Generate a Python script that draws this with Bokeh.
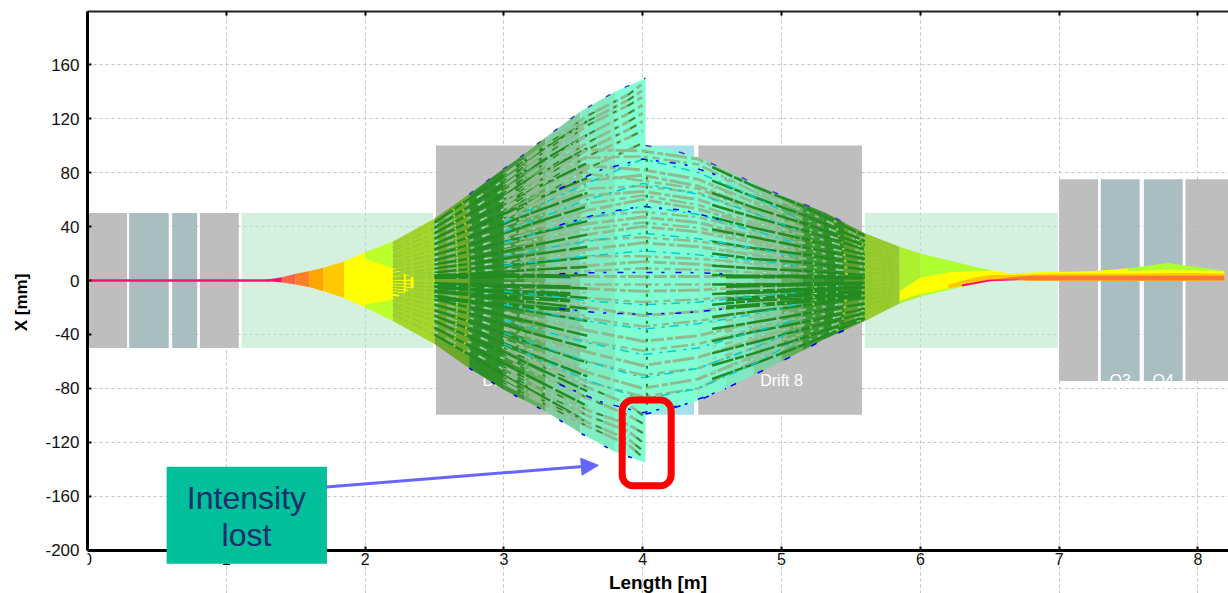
from bokeh.plotting import figure
from bokeh.models import (FixedTicker, LinearAxis, BoxAnnotation, Arrow, NormalHead, Range1d)
from bokeh.embed import file_html
from bokeh.resources import INLINE
from bokeh.core.properties import value

FONT = "Liberation Sans"

# element layout along the beamline [m], half heights [mm]
gray_l = [0.0, 0.81, 2.51, 4.40, 7.00, 7.91]
gray_r = [0.285, 1.09, 4.03, 5.58, 7.28, 8.30]
gray_t = [50, 50, 100, 100, 75, 75]
gray_b = [-50, -50, -99.5, -99.5, -74.5, -74.5]
quad_l = [0.30, 0.61, 7.30, 7.61]
quad_r = [0.585, 0.79, 7.58, 7.89]
quad_t = [50, 50, 75, 75]
quad_b = [-50, -50, -74.5, -74.5]
mint_l = [1.11, 5.60]
mint_r = [2.49, 6.99]
mint_t = [50, 50]
mint_b = [-50, -50]
blue_l = [4.03]
blue_r = [4.37]
blue_t = [100]
blue_b = [-99.5]

# beam envelope, left of the cut at 4 m
env_x_l = [1.25, 1.40, 1.50, 1.60, 1.70, 1.85, 2.00, 2.20, 2.50, 2.75, 3.00, 3.15, 3.30, 3.55, 3.80, 4.02]
env_u_l = [0, 2.5, 5, 7, 9.5, 14, 21, 29, 46, 64, 83, 94, 106, 125, 140, 150]
env_d_l = [0, -1.5, -3, -5, -8, -13, -20, -30, -47, -65, -81, -89, -97, -113, -127, -135]
col_l = ["#FF1070", "#FF6347", "#FF7F24", "#FFA500", "#FFC800", "#FFFF00", "#BDFF2A", "#A4D62C",
         "#6DA82C", "#2F8F28", "#3F9638", "#63AE60", "#7FCFA4", "#7FEDC4", "#7FFFD4"]
# beam envelope, right of the cut
env_x_r = [4.02, 4.20, 4.40, 4.60, 4.80, 5.00, 5.15, 5.30, 5.45, 5.60, 5.85, 6.00, 6.20, 6.40, 6.50, 6.65, 6.80,
           7.00, 7.25, 7.50, 7.78, 8.00, 8.19]
env_u_r = [100, 97, 91, 82, 72, 63, 57, 51, 43, 35, 25, 20, 15, 10, 8, 5, 6, 6, 7, 9, 13, 10, 7]
env_d_r = [-99, -95, -89, -80, -70, -60, -52, -44, -37, -30, -17, -12, -7, -2, 0, 0.5, 0, 0, 0, 0, 0, 0, 0]
col_r = ["#7FFFD4", "#7FFFD4", "#7FF8D0", "#7FE8C0", "#7FCFA4", "#63AE60", "#3F9638", "#2F8F28", "#5FA02C",
         "#93C82E", "#ADF02F", "#ADFF2F", "#ADFF2F", "#ADFF2F", "#FFFF00", "#FFFF00", "#FFFF00", "#FFFF00",
         "#FFFF00", "#ADFF2F", "#ADFF2F", "#ADFF2F"]

# inner hot bands
lens_x = [1.85, 2.00, 2.20, 2.35]
lens_u = [14, 16, 9, 2]
lens_d = [-13, -18, -14, -5]
hot_x = [5.85, 6.00, 6.20, 6.40, 6.50, 6.65, 6.80, 7.00, 7.25, 7.50, 7.78, 8.00, 8.19]
yel_u = [-8, 2, 6, 7, 7, 5, 5.5, 6.5, 6.5, 7, 8, 7.5, 7]
yel_d = [-15, -10, -6, -2, 0, 0.5, 0, 0, 0, 0, 0, 0, 0]
gold_x = [6.20, 6.40, 6.50, 6.65, 6.80, 7.00, 7.25, 7.50, 7.78, 8.00, 8.19]
gold_u = [-3, 2.5, 4, 4, 4.5, 5, 5, 5, 5.5, 5.5, 5]
gold_d = [-6, -2, 0, 0.5, 0, 0, 0, 0, 0, 0, 0]
ora_x = [6.30, 6.50, 6.65, 6.80, 7.00, 7.25, 7.50, 7.78, 8.00, 8.19]
ora_u = [-3, 0, 2.5, 3.5, 3.5, 3.5, 3.5, 3.5, 3.5, 3.5]
ora_d = [-4.5, -0.5, 0.5, 0, 0, 0, 0, 0, 0, 0]
pink_x = [6.30, 6.50, 6.70]
pink_u = [-3, 0.7, 0.8]
pink_d = [-4.5, -0.5, 0.2]

# pencil line before the focus
pencil_x = [0.02, 1.32]
pencil_y = [0, 0]

# dense rays, left side
ray_x_l = [2.2, 2.5, 2.8, 3.2, 3.6]
rays_l = [
    [27, 43, 64, 92, 118], [24, 39, 58, 84, 108], [22, 35, 52, 76, 98], [19, 31, 46, 67, 87],
    [17, 27, 40, 59, 76], [14, 23, 34, 50, 65], [12, 19, 28, 42, 55], [10, 15, 23, 34, 44],
    [7, 12, 17, 26, 34], [5, 9, 13, 19, 25], [4, 6, 9, 13, 17], [2, 4, 5, 8, 10],
    [1, 2, 2, 3, 4], [-1, -2, -3, -4, -6], [-3, -5, -7, -10, -13], [-5, -8, -11, -16, -21],
    [-7, -11, -16, -23, -30], [-9, -14, -21, -31, -41], [-12, -18, -26, -39, -50],
    [-14, -22, -32, -47, -61], [-17, -26, -38, -55, -71], [-19, -30, -44, -63, -82],
    [-22, -35, -51, -72, -93], [-25, -40, -58, -81, -105],
]
rays_l_b = [
    [26, 41, 61, 88, 113], [23, 37, 55, 80, 103], [20, 33, 49, 71, 92], [18, 29, 43, 63, 81],
    [15, 25, 37, 54, 70], [13, 21, 31, 46, 60], [11, 17, 25, 38, 49], [8, 13, 20, 30, 39],
    [6, 10, 15, 22, 29], [3, 7, 11, 16, 21], [3, 5, 7, 10, 13], [-2, -3, -5, -7, -9],
    [-4, -6, -9, -13, -17], [-6, -10, -14, -20, -26], [-8, -13, -19, -27, -35], [-10, -16, -24, -35, -45],
    [-13, -20, -29, -43, -55], [-15, -24, -35, -51, -66], [-18, -28, -41, -59, -76],
    [-20, -33, -48, -68, -88], [-24, -38, -55, -77, -99],
]
# dense rays, right side
ray_x_r = [4.5, 4.8, 5.2, 5.6, 5.85]
rays_r = [
    [84, 70, 53, 33, 22], [74, 62, 47, 29, 19], [65, 54, 41, 26, 17], [56, 47, 36, 23, 15],
    [47, 39, 30, 19, 13], [38, 32, 24, 16, 10], [29, 24, 19, 12, 8], [20, 16, 13, 8, 5],
    [11, 9, 7, 4, 3], [4, 3, 3, 2, 1], [-3, -3, -3, -2, -1], [-10, -9, -8, -5, -3],
    [-18, -15, -13, -9, -5], [-27, -23, -18, -13, -7], [-36, -31, -24, -17, -9],
    [-45, -38, -30, -21, -11], [-54, -46, -35, -24, -13], [-63, -54, -41, -27, -15],
    [-73, -62, -46, -28, -16],
]
rays_r_b = [
    [79, 66, 50, 31, 20], [69, 58, 44, 28, 18], [60, 50, 38, 24, 16], [51, 43, 33, 21, 14],
    [42, 35, 27, 18, 12], [33, 28, 22, 14, 9], [24, 20, 16, 10, 6], [15, 12, 10, 6, 4],
    [7, 6, 5, 3, 2], [-6, -6, -5, -3, -2], [-14, -12, -10, -7, -4], [-22, -19, -15, -11, -6],
    [-31, -27, -21, -15, -8], [-40, -34, -27, -19, -10], [-49, -42, -32, -22, -12],
    [-58, -50, -38, -26, -14], [-68, -58, -44, -28, -15],
]
# heavy bands around the axis
core_x_l = [2.5, 3.0, 3.5]
core_l = [[3, 4, 3], [-3, -4, -5], [-5, -8, -10], [-8, -12, -15], [-13, -18, -22]]
core_x_r = [4.6, 5.1, 5.6]
core_r = [[3, 3, 2], [-4, -3, -2], [-9, -7, -5], [-14, -11, -8], [-20, -16, -11]]

# arched streaks across the cut
arc_x = [3.0, 3.3, 3.6, 4.0, 4.4, 4.8, 5.1]
arcs_teal = [
    [43, 58, 72, 90, 80, 62, 47], [36, 48, 60, 72, 64, 50, 38], [28, 37, 46, 55, 49, 37, 28],
    [18, 24, 29, 35, 31, 24, 18], [11, 15, 18, 22, 19, 15, 11], [-8, -11, -15, -18, -16, -12, -9],
    [-18, -24, -30, -36, -32, -25, -18], [-29, -38, -46, -55, -50, -38, -29],
    [-39, -50, -60, -72, -65, -50, -37], [-47, -60, -74, -88, -80, -62, -45],
]
arcs_sage = [
    [62, 79, 97, 96, 90, 70, 54], [54, 70, 85, 82, 75, 58, 45], [47, 60, 74, 78, 70, 54, 42],
    [41, 52, 63, 66, 60, 46, 35], [33, 42, 52, 60, 53, 41, 31], [28, 35, 42, 47, 43, 33, 25],
    [22, 28, 34, 40, 36, 28, 21], [15, 19, 23, 28, 25, 19, 15], [7, 9, 11, 14, 12, 9, 7],
    [2, 3, 3, 3, 3, 3, 2], [-4, -5, -6, -8, -7, -5, -4], [-13, -16, -20, -26, -23, -17, -13],
    [-24, -30, -37, -45, -41, -31, -24], [-35, -44, -53, -63, -57, -44, -34],
    [-45, -56, -68, -80, -73, -56, -42],
]
arcs_sage_b = [
    [58, 74, 91, 92, 86, 66, 50], [50, 65, 79, 74, 68, 52, 40], [44, 56, 68, 70, 65, 50, 38],
    [37, 47, 57, 63, 56, 43, 33], [30, 38, 47, 51, 47, 37, 28], [25, 31, 38, 43, 39, 30, 23],
    [19, 24, 30, 32, 29, 23, 18], [12, 15, 18, 18, 16, 13, 11], [5, 6, 7, 9, 8, 6, 5],
    [-2, -2, -3, -3, -3, -2, -2], [-8, -10, -13, -16, -14, -11, -8], [-18, -23, -28, -34, -30, -23, -18],
    [-29, -37, -45, -52, -47, -36, -28], [-40, -50, -60, -70, -65, -50, -38],
    [-50, -62, -75, -86, -80, -60, -46],
]
cut_top_x = [3.0, 3.3, 3.6, 3.9, 4.0]
cut_top = [[78, 100, 122, 138, 146], [74, 96, 118, 134, 141], [70, 93, 115, 130, 136], [65, 87, 108, 124, 130],
           [60, 82, 102, 118, 124], [56, 77, 97, 112, 118], [52, 73, 92, 106, 111], [46, 64, 83, 97, 102]]
cut_bot = [[-76, -92, -108, -122, -131], [-72, -90, -105, -118, -126], [-68, -85, -100, -112, -120],
           [-64, -80, -96, -107, -113], [-55, -71, -87, -100, -106], [-50, -65, -79, -92, -100]]
arc_blue_x = [3.4, 3.7, 4.0, 4.3, 4.6]
arcs_blue = [[68, 82, 90, 86, 76], [41, 50, 55, 52, 44], [5, 6, 6, 6, 5], [-21, -24, -25, -24, -21],
             [-77, -90, -98, -92, -80]]
seam_x = [4.03, 4.03]
seam_y = [-92, 95]

x_ticks = [0, 1, 2, 3, 4, 5, 6, 7, 8]
y_ticks = [-200, -160, -120, -80, -40, 0, 40, 80, 120, 160]
y_tick_labels = {-200: "-200", -160: "-160", -120: "-120", -80: "-80", -40: "-40",
                 0: "0", 40: "40", 80: "80", 120: "120", 160: "160"}
x_label = "Length [m]"
y_label = "X [mm]"
drift_labels = ["Drift 7", "Drift 8"]
drift_x = [3.0, 5.0]
drift_y = [-74, -74]
q_labels = ["Q3", "Q4"]
q_x = [7.44, 7.75]
q_y = [-74, -74]
q_mask_l = [7.30]
q_mask_r = [7.89]
q_mask_t = [-75]
q_mask_b = [-79]
callout_lines = ["Intensity", "lost"]
callout_x = [1.145, 1.145]
callout_y = [-161, -189]
box_l = [0.57]
box_r = [1.725]
box_t = [-138]
box_b = [-210]

Y_TOP, Y_BOTTOM = 199.4, -232.0
p = figure(width=1228, height=593, output_backend="svg", toolbar_location=None,
           x_range=Range1d(0, 8.22), y_range=Range1d(Y_BOTTOM, Y_TOP),
           min_border_left=87, min_border_right=0, min_border_top=11, min_border_bottom=0,
           background_fill_color="white", border_fill_color="white", outline_line_color=None,
           x_axis_label=x_label, y_axis_label=y_label)
p.xaxis[0].fixed_location = -200
p.xaxis[0].bounds = (0, 8.22)
p.yaxis[0].bounds = (-200, Y_TOP)
p.xgrid[0].bounds = (-200, Y_TOP)

for ax, ticks in ((p.xaxis[0], x_ticks), (p.yaxis[0], y_ticks)):
    ax.ticker = FixedTicker(ticks=ticks)
    ax.axis_line_color = "black"
    ax.axis_line_width = 3
    ax.major_tick_line_color = "black"
    ax.major_tick_line_width = 2
    ax.major_tick_in = 4
    ax.major_tick_out = 0
    ax.minor_tick_line_color = None
    ax.major_label_text_font = FONT
    ax.major_label_text_color = "#111111"
    ax.axis_label_text_font = FONT
    ax.axis_label_text_font_style = "bold"
    ax.axis_label_text_color = "black"
p.xaxis[0].major_label_text_font_size = "16px"
p.yaxis[0].major_label_text_font_size = "17px"
p.xaxis[0].axis_label_text_font_size = "19px"
p.yaxis[0].axis_label_text_font_size = "17px"
p.yaxis[0].major_label_overrides = y_tick_labels
p.xaxis[0].major_label_standoff = 3
p.xaxis[0].axis_label_standoff = 3
p.yaxis[0].major_label_standoff = 8
p.yaxis[0].axis_label_standoff = 11

top = LinearAxis(ticker=FixedTicker(ticks=x_ticks), axis_line_color="#222222", axis_line_width=2,
                 major_tick_line_color="black", major_tick_line_width=2, major_tick_in=4, major_tick_out=0,
                 minor_tick_line_color=None, major_label_overrides={t: "" for t in x_ticks},
                 major_label_standoff=0)
p.add_layout(top, "above")

for g in (p.xgrid[0], p.ygrid[0]):
    g.grid_line_color = "#C4C4C4"
    g.grid_line_dash = "3 3"
    g.grid_line_width = 1
p.xgrid[0].ticker = FixedTicker(ticks=x_ticks)
p.ygrid[0].ticker = FixedTicker(ticks=y_ticks)

p.quad(left=mint_l, right=mint_r, top=mint_t, bottom=mint_b, fill_color="#B7E8CB", fill_alpha=0.6, line_color=None)
p.quad(left=gray_l, right=gray_r, top=gray_t, bottom=gray_b, fill_color="#B7B7B7", fill_alpha=0.9, line_color=None)
p.quad(left=quad_l, right=quad_r, top=quad_t, bottom=quad_b, fill_color="#9FB7B9", fill_alpha=0.9, line_color=None)
p.quad(left=blue_l, right=blue_r, top=blue_t, bottom=blue_b, fill_color="#A5DFEA", line_color=None)

lab = dict(text_color="white", text_font=value(FONT), text_font_size="16px", text_align="center", text_baseline="middle")
p.text(x=drift_x, y=drift_y, text=drift_labels, **lab)
p.text(x=q_x, y=q_y, text=q_labels, **lab)
p.quad(left=q_mask_l, right=q_mask_r, top=q_mask_t, bottom=q_mask_b, fill_color="white", line_color=None)

# beam body: one slice per envelope interval
for xs, up, dn, cols in ((env_x_l, env_u_l, env_d_l, col_l), (env_x_r, env_u_r, env_d_r, col_r)):
    for i, c in enumerate(cols):
        p.varea(x=xs[i:i + 2], y1=up[i:i + 2], y2=dn[i:i + 2], fill_color=c)

p.varea(x=lens_x, y1=lens_u, y2=lens_d, fill_color="#FFFF00")
p.varea(x=hot_x, y1=yel_u, y2=yel_d, fill_color="#FFFF00")
p.varea(x=gold_x, y1=gold_u, y2=gold_d, fill_color="#FFC800")
p.varea(x=ora_x, y1=ora_u, y2=ora_d, fill_color="#FF7438")
p.varea(x=pink_x, y1=pink_u, y2=pink_d, fill_color="#FF1070")
p.line(pencil_x, pencil_y, line_color="#FF1070", line_width=2.5)

def bundle(x, rows, color, width, dash="solid", alpha=1.0):
    p.multi_line(xs=[x] * len(rows), ys=rows, line_color=color, line_width=width, line_dash=dash, line_alpha=alpha)

bundle(arc_x, arcs_sage, "#8FBC8F", 3, "13 3 6 2 22 4")
bundle(arc_x, arcs_sage_b, "#8FBC8F", 2.5, "7 4 17 3 4 5")
# olive at the thin ends of the rays
bundle(ray_x_l[:3], [r[:3] for r in rays_l], "#9ACD32", 2, "11 2 5 3")
bundle(ray_x_r[2:], [r[2:] for r in rays_r], "#9ACD32", 2, "11 2 5 3")
# sage and aqua over the dark zone, dark green further in
bundle(ray_x_l[1:], [r[1:] for r in rays_l_b], "#8FBC8F", 2, "4 9 8 16")
bundle(ray_x_r[:-1], [r[:-1] for r in rays_r_b], "#8FBC8F", 2, "4 9 8 16")
bundle(ray_x_l[1:], [r[1:] for r in rays_l], "#228B22", 2.5, "22 2 9 2 30 3")
bundle(ray_x_r[:-1], [r[:-1] for r in rays_r], "#228B22", 2.5, "22 2 9 2 30 3")
bundle(core_x_l, core_l, "#228B22", 4, "34 3 12 2")
bundle(core_x_r, core_r, "#228B22", 4, "34 3 12 2")
bundle(ray_x_l[1:], [r[1:] for r in rays_l_b], "#7FFFD4", 1, "3 19 2 27")
bundle(ray_x_r[:-1], [r[:-1] for r in rays_r_b], "#7FFFD4", 1, "3 19 2 27")
bundle(cut_top_x, cut_top, "#8FBC8F", 3, "15 4 6 3")
bundle(cut_top_x, cut_bot, "#8FBC8F", 3, "15 4 6 3")
bundle(cut_top_x, cut_top, "#228B22", 1.5, "3 13 7 21")
bundle(cut_top_x, cut_bot, "#228B22", 1.5, "3 13 7 21")
bundle(arc_x, arcs_teal, "#00CED1", 1.5, "9 7 3 5")
bundle(arc_blue_x, arcs_blue, "#0000FF", 1.5, "6 9 3 11")
p.line(seam_x, seam_y, line_color="#228B22", line_width=2, line_dash="3 6")
# speckled rim of the beam
p.line(env_x_l[9:], env_u_l[9:], line_color="#4A3FC0", line_width=1.5, line_dash="5 16")
p.line(env_x_l[9:], env_d_l[9:], line_color="#0000FF", line_width=1.5, line_dash="4 22")
p.line(env_x_r[:9], env_u_r[:9], line_color="#4A3FC0", line_width=1.5, line_dash="6 28")
p.line(env_x_r[:9], env_d_r[:9], line_color="#0000FF", line_width=1.5, line_dash="6 24")

p.add_layout(BoxAnnotation(left=3.852, right=4.205, top=-88.5, bottom=-152.2, fill_color=None, fill_alpha=0,
                           line_color="#FF0000", line_alpha=1, line_width=7, border_radius=11, level="overlay"))
p.add_layout(Arrow(end=NormalHead(size=17, fill_color="#6666FF", line_color="#6666FF"),
                   x_start=1.72, y_start=-153, x_end=3.68, y_end=-137,
                   line_color="#6666FF", line_width=3, level="overlay"))
p.quad(left=box_l, right=box_r, top=box_t, bottom=box_b, fill_color="#00BF9A", line_color=None, level="overlay")
p.text(x=callout_x, y=callout_y, text=callout_lines, text_font=value(FONT), text_font_size="32px",
       text_color="#1A2F6B", text_align="center", text_baseline="middle", level="overlay")

open("out.html", "w").write(file_html(p, INLINE))
